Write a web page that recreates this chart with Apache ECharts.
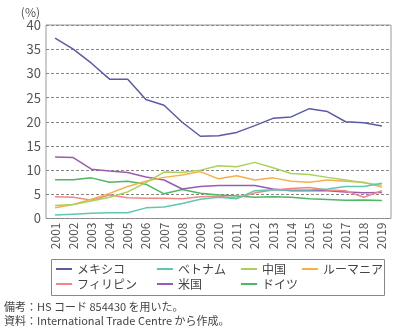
<!DOCTYPE html>
<html><head><meta charset="utf-8">
<script src="https://cdn.jsdelivr.net/npm/echarts@6/dist/echarts.min.js"></script>
<style>html,body{margin:0;padding:0;background:#fff}#c{width:400px;height:332px}</style>
</head><body><div id="c"></div>
<script>
const years = ['2001','2002','2003','2004','2005','2006','2007','2008','2009','2010','2011','2012','2013','2014','2015','2016','2017','2018','2019'];
const mexico      = [37.3,35.0,32.1,28.8,28.8,24.6,23.4,19.9,17.0,17.1,17.8,19.2,20.7,21.0,22.7,22.1,20.0,19.8,19.1];
const vietnam     = [0.7,0.9,1.1,1.2,1.2,2.2,2.4,3.1,4.0,4.4,4.1,5.75,5.95,5.9,5.9,6.1,6.6,6.6,7.3];
const china       = [2.7,2.9,3.6,4.4,5.5,7.4,9.6,9.5,10.0,10.9,10.7,11.6,10.5,9.3,9.1,8.5,7.95,7.4,6.9];
const romania     = [2.2,2.9,4.0,5.2,6.6,7.7,8.5,9.0,9.7,8.2,8.85,7.95,8.4,7.7,7.5,7.95,7.7,7.5,6.5];
const philippines = [4.5,4.4,3.8,4.85,4.3,4.2,4.2,4.1,4.5,4.6,4.2,5.3,5.9,6.2,6.4,5.9,5.75,4.4,5.75];
const usa         = [12.7,12.6,10.2,9.8,9.5,8.6,7.95,6.1,6.6,6.8,6.8,6.8,6.1,5.75,5.75,5.75,5.5,5.3,5.4];
const germany     = [8.0,8.0,8.4,7.5,7.7,7.1,5.1,6.0,5.2,4.85,4.65,4.4,4.5,4.4,4.1,3.95,3.75,3.8,3.7];
const yTicks = [0,5,10,15,20,25,30,35,40];

const names = ['メキシコ','ベトナム','中国','ルーマニア','フィリピン','米国','ドイツ'];
const datas = [mexico, vietnam, china, romania, philippines, usa, germany];
const colors = ['#5a5aaa','#5ec8b0','#a9d25c','#f6b04a','#f28684','#9b5bb2','#4db862'];
const FONT = '"Noto Sans CJK JP", "Noto Sans", sans-serif';

const chart = echarts.init(document.getElementById('c'), null, {renderer:'canvas'});
function lg(items, left){
  return {orient:'vertical', left:left, top:262, padding:0, itemWidth:16, itemHeight:2, itemGap:1,
    icon:'rect', data:items, textStyle:{fontFamily:FONT, fontSize:12, color:'#444', lineHeight:14, height:14, padding:0}, itemStyle:{borderWidth:0}};
}
chart.setOption({
  animation:false,
  textStyle:{fontFamily:FONT},
  grid:{left:46, right:9, top:25, bottom:113.5, show:true, borderColor:'#999', borderWidth:1},
  xAxis:{type:'category', data:years, boundaryGap:true,
    axisLine:{show:false}, axisTick:{show:false},
    axisLabel:{rotate:90, fontSize:12, color:'#555', margin:4, fontFamily:FONT, interval:0}},
  yAxis:{type:'value', min:0, max:40, interval:5,
    name:'(%)', nameLocation:'end', nameGap:6, nameTextStyle:{fontSize:12, color:'#555', align:'right', padding:[0,6,0,0]},
    axisLine:{show:false}, axisTick:{show:false},
    axisLabel:{fontSize:13, color:'#555', margin:5},
    splitLine:{lineStyle:{type:[3,2], color:'#888', width:1}}},
  legend:[lg(['メキシコ','フィリピン'],56), lg(['ベトナム','米国'],157), lg(['中国','ドイツ'],241), lg(['ルーマニア'],302)],
  graphic:[
    {type:'rect', shape:{x:51.5, y:259.5, width:333, height:36}, style:{fill:'none', stroke:'#888', lineWidth:1}},
    {type:'text', left:4, top:301, style:{text:'備考：HS コード 854430 を用いた。', font:'11px '+FONT, fill:'#444'}},
    {type:'text', left:4, top:315, style:{text:'資料：International Trade Centre から作成。', font:'11px '+FONT, fill:'#444'}}
  ],
  series: names.map((n,i)=>({name:n, type:'line', data:datas[i], showSymbol:false, symbol:'none',
    lineStyle:{color:colors[i], width:1.5}, itemStyle:{color:colors[i]}, z:10-i}))
});
</script></body></html>
